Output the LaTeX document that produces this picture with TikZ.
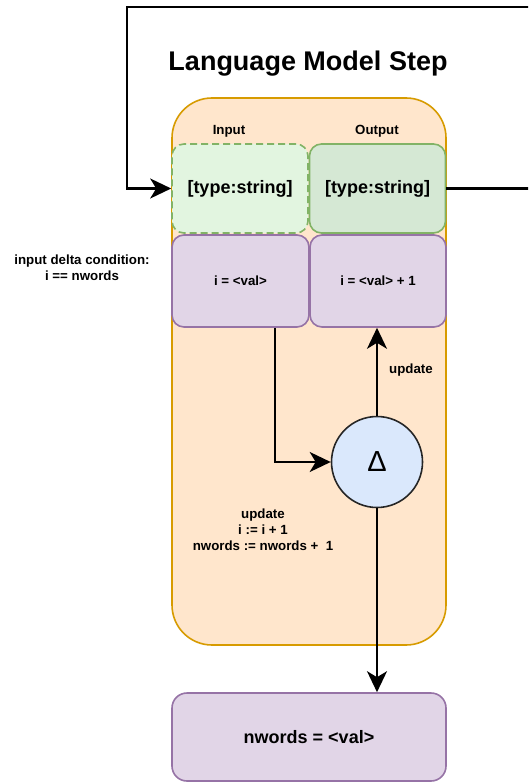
\documentclass[tikz,border=0pt]{standalone}
\usepackage{fontspec}
\setmainfont{Liberation Sans}
\usetikzlibrary{arrows.meta}

\definecolor{stepfill}{HTML}{FFE6CC}
\definecolor{stepline}{HTML}{D79B00}
\definecolor{greenfill}{HTML}{D5E8D4}
\definecolor{greenlight}{HTML}{E2F5E0}
\definecolor{greenline}{HTML}{82B366}
\definecolor{purplefill}{HTML}{E1D5E7}
\definecolor{purpleline}{HTML}{9673A6}
\definecolor{bluefill}{HTML}{DAE8FC}

\tikzset{
  every node/.style={font=\bfseries},
  container/.style={draw=stepline, fill=stepfill, line width=1.6pt, rounded corners=40pt,
    minimum width=274pt, minimum height=547pt, inner sep=0pt},
  slotbox/.style={line width=1.6pt, rounded corners=12pt, inner sep=0pt, align=center,
    font=\bfseries\fontsize{18}{21}\selectfont},
  inslot/.style={slotbox, draw=greenline, fill=greenlight, dash pattern=on 7pt off 4pt},
  outslot/.style={slotbox, draw=greenline, fill=greenfill},
  varbox/.style={draw=purpleline, fill=purplefill, line width=1.6pt, rounded corners=12pt,
    inner sep=0pt, align=center, font=\bfseries\fontsize{13.3}{16}\selectfont},
  deltanode/.style={circle, draw=black!85, fill=bluefill, line width=1.6pt,
    minimum size=91pt, inner sep=0pt, font=\fontsize{29}{32}\selectfont},
  smalltext/.style={align=center, font=\bfseries\fontsize{13.3}{15.8}\selectfont},
  link/.style={draw=black, line width=2.2pt, -{Stealth[length=21pt,width=20pt,inset=6pt]}},
}

\begin{document}
\begin{tikzpicture}[x=1pt, y=-1pt]
  \clip (0,0) rectangle (528,783);
  \fill[white] (0,0) rectangle (528,783);

  % step container and its title
  \node[container] (step) at (309,371.5) {};
  \node[font=\bfseries\fontsize{27}{32}\selectfont] (title) at (308,64) {Language Model Step};

  % input / output slots
  \node[smalltext] (inlabel) at (229,131) {Input};
  \node[smalltext] (outlabel) at (377,131) {Output};
  \node[inslot, minimum width=136pt, minimum height=89pt] (inbox) at (240,188.5) {[type:string]};
  \node[outslot, minimum width=136pt, minimum height=89pt] (outbox) at (377.5,188.5) {[type:string]};

  % counter state
  \node[varbox, minimum width=137pt, minimum height=92pt] (ival) at (240.5,281) {i = <val>};
  \node[varbox, minimum width=136pt, minimum height=92pt] (oval) at (378,281) {i = <val> + 1};

  \node[smalltext] (cond) at (82,268) {input delta condition:\\i == nwords};

  % delta operator
  \node[deltanode] (delta) at (377,462) {Δ};

  \node[smalltext] (upd) at (411,370) {update};
  \node[smalltext] (updblock) at (263,530) {update\\i := i + 1\\nwords := nwords +\ \ 1};

  % word counter
  \node[varbox, minimum width=274pt, minimum height=88pt, rounded corners=15pt,
        font=\bfseries\fontsize{18}{21}\selectfont] (nwords) at (309,737) {nwords = <val>};

  % connectors
  \coordinate (loopright) at (545,188.5);
  \coordinate (looptop) at (127,7);
  \draw[link] (outbox.east) -- (loopright) |- (looptop) |- (inbox.west);
  \draw[link] ([xshift=34.5pt]ival.south) |- (delta.west);
  \draw[link] (delta.north) -- (delta.north |- oval.south);
  \draw[link] (delta.south) -- (delta.south |- nwords.north);
\end{tikzpicture}
\end{document}
